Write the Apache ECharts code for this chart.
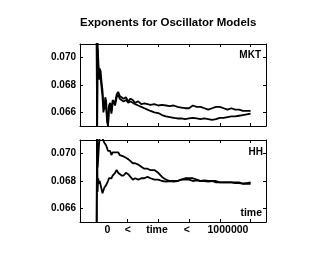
<!DOCTYPE html>
<html><head><meta charset="utf-8">
<script src="https://cdn.jsdelivr.net/npm/echarts@6/dist/echarts.min.js"></script>
<style>html,body{margin:0;padding:0;background:#fff}#c{width:330px;height:255px}</style>
</head><body><div id="c"></div>
<script>
// time in thousands of steps
var times = [0,3,6,10,15,20,26,32,38,44,50,56,62,68,74,80,88,96,104,112,120,130,140,150,162,175,190,205,220,235,250,270,290,310,330,350,375,400,425,450,475,500,525,550,575,600,625,650,675,700,725,750,775,800,825,850,875,900,925,950,975,1000];
var mktA = [0.0730,0.0640,0.0712,0.0700,0.0688,0.0692,0.0690,0.0682,0.0676,0.0665,0.0662,0.0671,0.0668,0.0656,0.0651,0.0665,0.0667,0.0661,0.0669,0.0670,0.0667,0.0673,0.0675,0.0672,0.0671,0.0670,0.0671,0.0668,0.0670,0.0669,0.0667,0.0668,0.0666,0.06665,0.0666,0.06655,0.0666,0.0665,0.06655,0.0665,0.06645,0.0665,0.0664,0.06635,0.0663,0.0663,0.0665,0.0664,0.0664,0.0663,0.0662,0.0663,0.0664,0.0664,0.0663,0.0662,0.0663,0.0662,0.0662,0.0661,0.0661,0.0661];
var mktB = [0.0730,0.0638,0.0706,0.0694,0.0684,0.0688,0.0685,0.0678,0.0672,0.0660,0.0659,0.0668,0.0664,0.0653,0.0650,0.0662,0.0665,0.0659,0.0666,0.0668,0.0665,0.0671,0.0673,0.0670,0.0669,0.0668,0.0669,0.0667,0.0668,0.0667,0.0666,0.0665,0.0664,0.0663,0.0662,0.0661,0.0660,0.06595,0.0658,0.0657,0.06565,0.0656,0.06555,0.06555,0.0655,0.06555,0.0656,0.06555,0.0655,0.06555,0.0655,0.06545,0.0655,0.0656,0.0656,0.06565,0.0657,0.0657,0.06575,0.0658,0.06585,0.0659];
var hhA = [0.0640,0.0722,0.0690,0.0696,0.0706,0.0712,0.0714,0.0713,0.0711,0.0710,0.0708,0.0707,0.0706,0.0704,0.0702,0.0703,0.0702,0.0699,0.0701,0.0702,0.0701,0.0702,0.0701,0.0699,0.0698,0.0698,0.0697,0.0696,0.06945,0.0693,0.0693,0.0692,0.06905,0.0689,0.0689,0.0688,0.0688,0.0686,0.0683,0.0681,0.0680,0.0680,0.0680,0.0681,0.0681,0.0681,0.0680,0.06805,0.0680,0.06805,0.0680,0.0680,0.0680,0.0679,0.0679,0.0679,0.0679,0.0679,0.0679,0.0678,0.0678,0.0678];
var hhB = [0.0640,0.0720,0.0672,0.0682,0.0678,0.0680,0.0677,0.0674,0.0671,0.0672,0.0675,0.0674,0.0677,0.0676,0.0680,0.0682,0.0683,0.0682,0.0684,0.0685,0.0686,0.0688,0.0686,0.0685,0.0684,0.0684,0.0686,0.0685,0.0683,0.0681,0.0682,0.0681,0.0682,0.0682,0.0683,0.0682,0.0681,0.0681,0.0680,0.06795,0.0680,0.06795,0.0680,0.0681,0.0682,0.0682,0.0682,0.0681,0.0680,0.0680,0.06795,0.0680,0.0679,0.0679,0.0679,0.0679,0.0679,0.06785,0.06785,0.0678,0.06785,0.0679];
var xTicks = [0,200,400,600,800,1000];
var yTicks = [0.066,0.068,0.070];
var xTickLabels = ['0','<','time','<','1000000'];
var xLabelAt = [70,203,392,586,853];

function pairs(ys){ return times.map(function(t,i){ return [t, ys[i]]; }); }

var FONT = 'Liberation Sans, Arial, sans-serif';
var grids = [
  {left:80, right:64, top:44, height:82},
  {left:80, right:64, top:140, height:82}
];
function xAx(g, pos, labels){
  var a = {type:'value', gridIndex:g, position:pos, min:-108, max:1100,
    axisLine:{show:true, onZero:false, lineStyle:{color:'#000', width:1}},
    axisTick:{show:true, inside:true, length:3, customValues:xTicks, lineStyle:{color:'#000'}},
    splitLine:{show:false},
    axisLabel:{show:false}};
  if(labels){
    a.axisLabel = {show:true, customValues:xLabelAt, margin:3, color:'#000', fontFamily:FONT, fontWeight:'bold', fontSize:10.5,
      formatter:function(v){ var i = xLabelAt.indexOf(v); return i>=0 ? xTickLabels[i] : ''; }};
  }
  return a;
}
function yAx(g, pos, labels){
  return {type:'value', gridIndex:g, position:pos, min:0.065, max:0.071,
    axisLine:{show:true, onZero:false, lineStyle:{color:'#000', width:1}},
    axisTick:{show:true, inside:true, length:3, customValues:yTicks, lineStyle:{color:'#000'}},
    splitLine:{show:false},
    axisLabel:{show:labels, customValues:yTicks, margin:4, color:'#000', fontFamily:FONT, fontWeight:'bold', fontSize:10,
      formatter:function(v){ return v.toFixed(3); }}};
}
function ser(data, xi, yi){
  return {type:'line', data:pairs(data), xAxisIndex:xi, yAxisIndex:yi, showSymbol:false, symbol:'none',
    lineStyle:{color:'#000', width:1.8}, animation:false, clip:true};
}
var chart = echarts.init(document.getElementById('c'), null, {renderer:'canvas'});
chart.setOption({
  backgroundColor:'#fff',
  animation:false,
  title:[
    {text:'Exponents for Oscillator Models', left:80, top:17, padding:0, textStyle:{fontFamily:FONT, fontWeight:'bold', fontSize:11.5, color:'#000'}},
    {text:'MKT', right:69, top:50, padding:0, textStyle:{fontFamily:FONT, fontWeight:'bold', fontSize:10, color:'#000'}},
    {text:'HH', right:67, top:147, padding:0, textStyle:{fontFamily:FONT, fontWeight:'bold', fontSize:10, color:'#000'}},
    {text:'time', right:68, top:208, padding:0, textStyle:{fontFamily:FONT, fontWeight:'bold', fontSize:10.5, color:'#000'}}
  ],
  grid:grids,
  xAxis:[xAx(0,'bottom',false), xAx(0,'top',false), xAx(1,'bottom',true), xAx(1,'top',false)],
  yAxis:[yAx(0,'left',true), yAx(0,'right',false), yAx(1,'left',true), yAx(1,'right',false)],
  series:[ser(mktA,0,0), ser(mktB,0,0), ser(hhA,2,2), ser(hhB,2,2)]
});
</script></body></html>
